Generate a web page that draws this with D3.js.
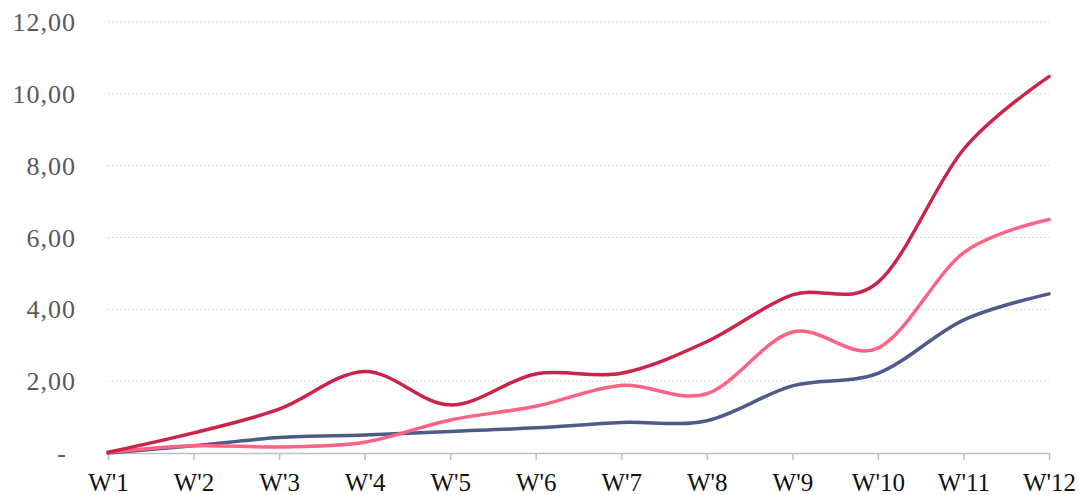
<!DOCTYPE html>
<html>
<head>
<meta charset="utf-8">
<script src="https://cdn.jsdelivr.net/npm/d3@7"></script>
<style>
  html, body { margin: 0; padding: 0; background: #fff; }
  svg { display: block; }
</style>
</head>
<body>
<svg id="chart" width="1079" height="495"></svg>
<script>
// Weekly categories
const weeks = ["W'1", "W'2", "W'3", "W'4", "W'5", "W'6", "W'7", "W'8", "W'9", "W'10", "W'11", "W'12"];

// Series values
const seriesRed  = [0.02, 0.56, 1.22, 2.27, 1.34, 2.20, 2.22, 3.10, 4.40, 4.75, 8.45, 10.48];
const seriesPink = [0.02, 0.20, 0.17, 0.30, 0.92, 1.30, 1.88, 1.65, 3.37, 2.92, 5.57, 6.50];
const seriesNavy = [0.00, 0.20, 0.43, 0.50, 0.60, 0.70, 0.85, 0.90, 1.87, 2.22, 3.70, 4.43];

// Y axis ticks and labels
const yTicks = [0, 2, 4, 6, 8, 10, 12];
const yTickLabels = ["-", "2,00", "4,00", "6,00", "8,00", "10,00", "12,00"];

const colors = { red: "#CB2448", pink: "#FF6384", navy: "#4E5A87" };

const svg = d3.select("#chart");
const plotLeft = 108, plotRight = 1049, plotTop = 22, plotBottom = 453;

const x = d3.scalePoint().domain(weeks).range([plotLeft, plotRight]);
const y = d3.scaleLinear().domain([0, 12]).range([plotBottom, plotTop]);

// Dotted gridlines
svg.append("g")
  .selectAll("line")
  .data(yTicks.filter(d => d > 0))
  .join("line")
  .attr("x1", plotLeft).attr("x2", plotRight)
  .attr("y1", d => y(d)).attr("y2", d => y(d))
  .attr("stroke", "#d9d9d9")
  .attr("stroke-width", 1)
  .attr("stroke-dasharray", "2,2");

// Y labels
svg.append("g")
  .selectAll("text")
  .data(yTicks)
  .join("text")
  .attr("x", d => d === 0 ? 62 : 76)
  .attr("y", d => y(d) + 9)
  .attr("text-anchor", d => d === 0 ? "middle" : "end")
  .attr("font-family", "'Liberation Serif', serif")
  .attr("font-size", 26)
  .attr("letter-spacing", 1)
  .attr("fill", "#595959")
  .text((d, i) => yTickLabels[i]);

// X axis
const xAxis = svg.append("g")
  .attr("transform", `translate(0,${plotBottom})`)
  .call(d3.axisBottom(x).tickSize(7).tickSizeOuter(0).tickPadding(13));
xAxis.select(".domain").attr("stroke", "#bfbfbf").attr("stroke-width", 1.5);
xAxis.selectAll(".tick line").attr("stroke", "#bfbfbf").attr("stroke-width", 1.5);
xAxis.selectAll(".tick text")
  .attr("font-family", "'Liberation Serif', serif")
  .attr("font-size", 25)
  .attr("fill", "#111");

// Smoothed lines
const line = d3.line()
  .x((d, i) => x(weeks[i]))
  .y(d => y(d))
  .curve(d3.curveCardinal.tension(0));

const series = [
  { values: seriesNavy, color: colors.navy },
  { values: seriesPink, color: colors.pink },
  { values: seriesRed, color: colors.red }
];

svg.append("g")
  .selectAll("path")
  .data(series)
  .join("path")
  .attr("d", d => line(d.values))
  .attr("fill", "none")
  .attr("stroke", d => d.color)
  .attr("stroke-width", 3.5)
  .attr("stroke-linecap", "round")
  .attr("stroke-linejoin", "round");
</script>
</body>
</html>
